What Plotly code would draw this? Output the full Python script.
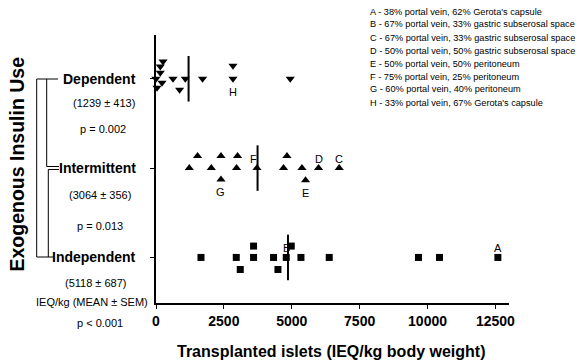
import plotly.graph_objects as go

# ---------------- data ----------------
groups = ["Independent", "Intermittent", "Dependent"]
group_pos = [0, 1, 2]

dep_x = [258, 158, 0, 158, 37, 221, 626, 869, 1079, 1715, 2835, 2835, 4944]
dep_jit = [0.194, 0.138, 0, 0.067, -0.10, -0.045, 0, -0.124, 0, 0, 0.146, 0, 0]

int_x = [1226, 1531, 2036, 2393, 2393, 3004, 2967, 3718, 4823, 4697, 5375, 5507, 5986, 6748]
int_jit = [0, 0.135, 0, 0.135, -0.127, 0.135, 0, 0, 0.135, 0, 0, -0.135, 0, 0]

ind_x = [1657, 2956, 3103, 3593, 3593, 4329, 4491, 4797, 4981, 5338, 6380, 9667, 10440, 12590]
ind_jit = [0, 0, -0.135, 0.127, 0, 0, -0.135, 0, 0.127, 0, 0, 0, 0, 0]

center_lines = [4860, 3740, 1200]  # Independent, Intermittent, Dependent

# labelled points: (letter, group, index, placement)
point_labels = [
    ("H", "dep", 11, "below"),
    ("G", "int", 4, "below"),
    ("E", "int", 11, "below"),
    ("F", "int", 7, "aboveleft"),
    ("D", "int", 12, "above"),
    ("C", "int", 13, "above"),
    ("B", "ind", 7, "above"),
    ("A", "ind", 13, "above"),
]

legend_lines = [
    "A - 38% portal vein, 62% Gerota's capsule",
    "B - 67% portal vein, 33% gastric subserosal space",
    "C - 67% portal vein, 33% gastric subserosal space",
    "D - 50% portal vein, 50% gastric subserosal space",
    "E - 50% portal vein, 50% peritoneum",
    "F - 75% portal vein, 25% peritoneum",
    "G - 60% portal vein, 40% peritoneum",
    "H - 33% portal vein, 67% Gerota's capsule",
]

group_stats = ["(5118 ± 687)", "(3064 ± 356)", "(1239 ± 413)"]
p_values = ["p < 0.001", "p = 0.013", "p = 0.002"]

x_ticks = [0, 2500, 5000, 7500, 10000, 12500]

# ---------------- layout geometry ----------------
W, H = 580, 361
ML, MR, MT, MB = 156, 71, 35, 58
PW, PH = W - ML - MR, H - MT - MB


def px(xp):
    return (xp - ML) / PW


def py(yp):
    return (H - MB - yp) / PH


FONT = "Arial, Liberation Sans, sans-serif"

fig = go.Figure()

series = {
    "dep": (dep_x, [2 + j for j in dep_jit], "triangle-down", 8),
    "int": (int_x, [1 + j for j in int_jit], "triangle-up", 8),
    "ind": (ind_x, [0 + j for j in ind_jit], "square", 7),
}
for key, (xs, ys, sym, sz) in series.items():
    fig.add_trace(go.Scatter(
        x=xs, y=ys, mode="markers",
        marker=dict(symbol=sym, size=sz, color="black", line=dict(width=0)),
        showlegend=False, cliponaxis=False,
    ))

# center lines
for gp, cx in zip(group_pos, center_lines):
    fig.add_trace(go.Scatter(
        x=[cx, cx], y=[gp - 0.255, gp + 0.255], mode="lines",
        line=dict(color="black", width=2), showlegend=False,
    ))

annotations = []
for letter, key, idx, place in point_labels:
    xs, ys, _, _ = series[key]
    ys_shift = {"below": -13, "above": 9, "aboveleft": 9}[place]
    xs_shift = -3 if place == "aboveleft" else 0
    annotations.append(dict(
        x=xs[idx], y=ys[idx], xref="x", yref="y", text=letter, showarrow=False,
        yshift=ys_shift, xshift=xs_shift, font=dict(family=FONT, size=11, color="black"),
    ))

# legend text top-right
for i, t in enumerate(legend_lines):
    annotations.append(dict(
        x=px(368), y=py(11.5 + 13.0 * i), xref="paper", yref="paper", text=t,
        showarrow=False, xanchor="left", yanchor="middle",
        font=dict(family=FONT, size=9.2, color="black"),
    ))

# group labels on left
grp_label_right = 138
grp_y = [257, 168, 79]
for g, gy in zip(groups, grp_y):
    annotations.append(dict(
        x=px(grp_label_right), y=py(gy), xref="paper", yref="paper",
        text="<b>%s</b>" % g, showarrow=False, xanchor="right", yanchor="middle",
        font=dict(family=FONT, size=14, color="black"),
    ))

stat_pos = [(95, 283), (100, 195), (104, 103)]
p_pos = [(100, 323), (100, 226), (103, 129)]
for (sx, sy), st in zip(stat_pos, group_stats):
    annotations.append(dict(
        x=px(sx), y=py(sy), xref="paper", yref="paper", text=st, showarrow=False,
        xanchor="center", yanchor="middle", font=dict(family=FONT, size=11, color="black"),
    ))
for (sx, sy), pv in zip(p_pos, p_values):
    annotations.append(dict(
        x=px(sx), y=py(sy), xref="paper", yref="paper", text=pv, showarrow=False,
        xanchor="center", yanchor="middle", font=dict(family=FONT, size=11, color="black"),
    ))
annotations.append(dict(
    x=px(92), y=py(302), xref="paper", yref="paper", text="IEQ/kg (MEAN ± SEM)",
    showarrow=False, xanchor="center", yanchor="middle",
    font=dict(family=FONT, size=11, color="black"),
))
annotations.append(dict(
    x=px(16.5), y=py(164), xref="paper", yref="paper", text="<b>Exogenous Insulin Use</b>",
    showarrow=False, textangle=-90, xanchor="center", yanchor="middle",
    font=dict(family=FONT, size=19.5, color="black"),
))
# x-axis title
annotations.append(dict(
    x=px(331), y=py(351.5), xref="paper", yref="paper",
    text="<b>Transplanted islets (IEQ/kg body weight)</b>",
    showarrow=False, xanchor="center", yanchor="middle",
    font=dict(family=FONT, size=16, color="black"),
))

# bracket lines
shapes = []
def seg(x0, y0, x1, y1):
    shapes.append(dict(type="line", xref="paper", yref="paper",
                       x0=px(x0), y0=py(y0), x1=px(x1), y1=py(y1),
                       line=dict(color="black", width=1)))

seg(36.7, 79, 58, 79)
seg(36.7, 79, 36.7, 257)
seg(36.7, 257, 53, 257)
seg(46.7, 79, 46.7, 166.5)
seg(46.7, 166.5, 59, 166.5)
seg(48.3, 169.5, 59, 169.5)
seg(48.3, 169.5, 48.3, 257)

fig.update_layout(
    width=W, height=H,
    margin=dict(l=ML, r=MR, t=MT, b=MB, pad=0),
    paper_bgcolor="white", plot_bgcolor="white",
    annotations=annotations, shapes=shapes,
    xaxis=dict(
        range=[0, 13000], showgrid=False, zeroline=False, automargin=False,
        showline=True, linecolor="black", linewidth=2,
        ticks="outside", ticklen=4, tickwidth=1, tickcolor="black",
        tickvals=x_ticks, ticktext=["<b>%d</b>" % v for v in x_ticks],
        tickfont=dict(family=FONT, size=14, color="black"),
    ),
    yaxis=dict(
        range=[-0.51, 2.49], showgrid=False, zeroline=False, automargin=False,
        showline=True, linecolor="black", linewidth=2,
        ticks="outside", ticklen=4, tickwidth=1, tickcolor="black",
        tickvals=group_pos, ticktext=["", "", ""],
    ),
)

fig.write_html("out.html")
